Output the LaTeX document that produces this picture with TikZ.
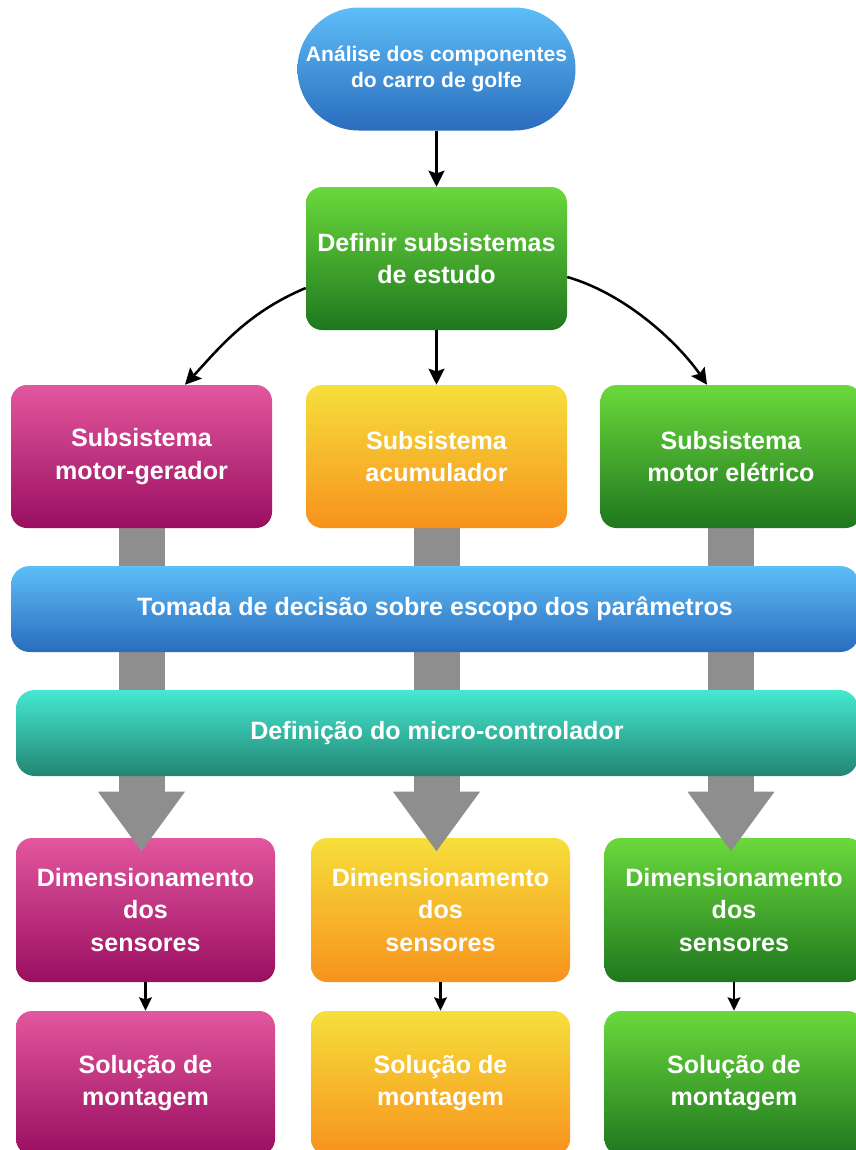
\documentclass[tikz,border=0pt]{standalone}
\usepackage{fontspec}
\setmainfont{Liberation Sans}
\usetikzlibrary{arrows.meta,calc}
\definecolor{magT}{HTML}{E3579F}
\definecolor{magB}{HTML}{990E5F}
\definecolor{yelT}{HTML}{F6DF3B}
\definecolor{yelB}{HTML}{F7921D}
\definecolor{grnT}{HTML}{6AD93C}
\definecolor{grnB}{HTML}{1F771E}
\definecolor{bluT}{HTML}{5DBEF8}
\definecolor{bluB}{HTML}{2A6CBD}
\definecolor{teaT}{HTML}{44E9D1}
\definecolor{teaB}{HTML}{238573}
\definecolor{arrgray}{HTML}{8E8E8E}
\pgfdeclarelayer{fg}
\pgfsetlayers{main,fg}
\tikzset{
  box/.style={rounded corners=12pt, inner sep=0pt, align=center, text=white,
    font=\fontsize{18.8pt}{24.4pt}\selectfont\bfseries},
  bigbox/.style={box, minimum width=195.75pt, minimum height=107.25pt},
  midbox/.style={box, minimum width=194.25pt, minimum height=108pt},
  bar/.style={box, rounded corners=14pt, minimum height=64.5pt},
  magenta box/.style={top color=magT, bottom color=magB},
  yellow box/.style={top color=yelT, bottom color=yelB},
  green box/.style={top color=grnT, bottom color=grnB},
  blue box/.style={top color=bluT, bottom color=bluB},
  teal box/.style={top color=teaT, bottom color=teaB},
  flow/.style={line width=1.9pt, -{Stealth[length=12pt,width=12pt,inset=2pt]}},
  smallflow/.style={line width=1.6pt, -{Stealth[length=10pt,width=9.5pt,inset=1.5pt]}},
  bigarrow/.style={draw=arrgray, line width=34.5pt, -{Triangle[length=45pt,width=62pt]}}
}
\begin{document}
\begin{tikzpicture}[x=0.75pt,y=-0.75pt]
\clip (0,0) rectangle (856,1150);
\fill[white] (0,0) rectangle (856,1150);

\node[box, blue box, rounded corners=46pt, minimum width=208.5pt, minimum height=92.25pt,
  font=\fontsize{15.8pt}{19.5pt}\selectfont\bfseries] (start) at (436.5,69)
  {Análise dos componentes\\do carro de golfe};
\node[bigbox, green box] (def) at (436.5,258.5) {Definir subsistemas\\de estudo};

\begin{pgfonlayer}{fg}
\node[bigbox, magenta box] (s1) at (141.5,456.5) {Subsistema\\motor-gerador};
\node[bigbox, yellow box] (s2) at (436.5,456.5) {Subsistema\\acumulador};
\node[bigbox, green box] (s3) at (731,456.5) {Subsistema\\motor elétrico};
\node[bar, blue box, minimum width=636pt] (dec) at (435,609)
  {Tomada de decisão sobre escopo dos parâmetros};
\node[bar, teal box, minimum width=631.5pt] (mcu) at (437,733)
  {Definição do micro-controlador};
\end{pgfonlayer}

\node[midbox, magenta box] (d1) at (145.5,910) {Dimensionamento\\dos\\sensores};
\node[midbox, yellow box] (d2) at (440.5,910) {Dimensionamento\\dos\\sensores};
\node[midbox, green box] (d3) at (734,910) {Dimensionamento\\dos\\sensores};

\node[midbox, magenta box] (m1) at (145.5,1083) {Solução de\\montagem};
\node[midbox, yellow box] (m2) at (440.5,1083) {Solução de\\montagem};
\node[midbox, green box] (m3) at (734,1083) {Solução de\\montagem};

% gray broad arrows
\draw[bigarrow] (s1.south) -- ($(s1.south |- d1.north)+(0,14)$);
\draw[bigarrow] (s2.south) -- ($(s2.south |- d2.north)+(0,14)$);
\draw[bigarrow] (s3.south) -- ($(s3.south |- d3.north)+(0,14)$);

% black connectors
\draw[flow] (start.south) -- (def.north);
\draw[flow] (def.south) -- (s2.north);
\draw[flow] ($(def.west)+(0,29.5)$) .. controls +(-60,25) and +(32,-34) .. ($(s1.north)+(43.5,0)$);
\draw[flow] ($(def.east)+(0,18.5)$) .. controls +(62,18) and +(-26,-38) .. ($(s3.north)+(-24,0)$);

\draw[smallflow] (d1.south) -- (m1.north);
\draw[smallflow] (d2.south) -- (m2.north);
\draw[smallflow] (d3.south) -- (m3.north);
\end{tikzpicture}
\end{document}
